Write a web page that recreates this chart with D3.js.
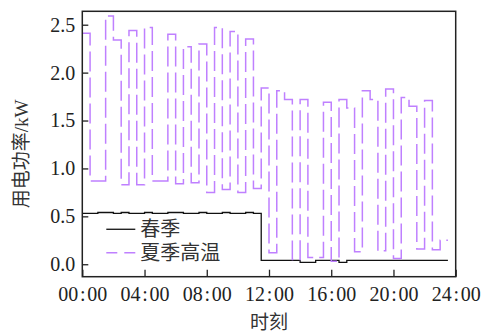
<!DOCTYPE html>
<html>
<head>
<meta charset="utf-8">
<script src="https://cdn.jsdelivr.net/npm/d3@7"></script>
<style>
body { margin: 0; background: #fff; }
</style>
</head>
<body>
<div id="chart"></div>
<script>
const hours = [0,0.5,1,1.5,2,2.5,3,3.5,4,4.5,5,5.5,6,6.5,7,7.5,8,8.5,9,9.5,10,10.5,11,11.5,
  12,12.5,13,13.5,14,14.5,15,15.5,16,16.5,17,17.5,18,18.5,19,19.5,20,20.5,21,21.5,22,22.5,23,23.5];

const spring = [0.53,0.53,0.54,0.54,0.53,0.54,0.53,0.53,0.54,0.53,0.53,0.54,0.54,0.53,0.53,0.54,0.53,0.53,0.54,0.53,0.53,0.54,0.53,
  0.04,0.04,0.04,0.04,0.04,0.02,0.02,0.04,0.04,0.04,0.02,0.04,0.04,0.04,0.04,0.04,0.04,0.04,0.04,0.04,0.04,0.04,0.04,0.04,0.04];

const summer = [2.41,0.87,0.87,2.59,2.34,0.83,2.44,0.83,2.47,0.87,0.87,2.40,0.84,2.27,0.85,2.30,0.75,2.47,0.78,2.43,0.75,2.35,0.79,1.84,
  0.12,1.81,1.72,0.05,1.72,0.07,0.07,1.69,0.03,1.72,1.63,0.13,1.81,1.72,0.14,1.83,0.06,1.74,1.65,0.16,1.71,0.15,0.25,0.25];

const yTicks = [0, 0.5, 1.0, 1.5, 2.0, 2.5];
const xTicks = [0, 4, 8, 12, 16, 20, 24];
const seriesNames = ['春季', '夏季高温'];

const FONT = 'Liberation Serif, Times New Roman, DejaVu Serif, Noto Sans CJK SC, serif';

const margin = {top: 11.3, right: 31.3, bottom: 57.3, left: 82.3},
  W = 487, H = 334,
  width = W - margin.left - margin.right,
  height = H - margin.top - margin.bottom;

const svg = d3.select('#chart').append('svg')
  .attr('width', W).attr('height', H);

const g = svg.append('g')
  .attr('transform', `translate(${margin.left},${margin.top})`);

const x = d3.scaleLinear().domain([0, 24]).range([0, width]);
const y = d3.scaleLinear().domain([-0.13, 2.64]).range([height, 0]);

const line = d3.line()
  .x(d => x(d[0])).y(d => y(d[1]))
  .curve(d3.curveStepAfter);

g.append('path')
  .datum(hours.map((h, i) => [h, spring[i]]))
  .attr('fill', 'none').attr('stroke', '#111').attr('stroke-width', 1.3)
  .attr('d', line);

g.append('path')
  .datum(hours.map((h, i) => [h, summer[i]]))
  .attr('fill', 'none').attr('stroke', '#bf80ff').attr('stroke-width', 1.5)
  .attr('stroke-dasharray', '20,6')
  .attr('d', line);

const pad = s => String(s).padStart(2, '0');

const xAxis = g.append('g')
  .attr('transform', `translate(0,${height})`)
  .call(d3.axisBottom(x).tickValues(xTicks).tickSizeInner(-7).tickSizeOuter(0)
    .tickPadding(10).tickFormat(d => pad(d) + '\u200A:\u200A00'));

const yAxis = g.append('g')
  .call(d3.axisLeft(y).tickValues(yTicks).tickSizeInner(-6).tickSizeOuter(0)
    .tickPadding(7).tickFormat(d3.format('.1f')));

[xAxis, yAxis].forEach(a => {
  a.attr('font-family', FONT).attr('font-size', 20);
  a.select('.domain').remove();
  a.selectAll('line').attr('stroke', '#222').attr('stroke-width', 1.3);
  a.selectAll('text').attr('fill', '#222');
});

g.append('rect')
  .attr('width', width).attr('height', height)
  .attr('fill', 'none').attr('stroke', '#222').attr('stroke-width', 1.5);

// legend
const legend = g.append('g').attr('font-family', FONT).attr('font-size', 20);
const legendY = [y(0.365), y(0.12)];
seriesNames.forEach((name, i) => {
  legend.append('line')
    .attr('x1', 24).attr('x2', 53)
    .attr('y1', legendY[i]).attr('y2', legendY[i])
    .attr('stroke', i === 0 ? '#111' : '#bf80ff')
    .attr('stroke-width', i === 0 ? 1.3 : 1.5)
    .attr('stroke-dasharray', i === 0 ? null : '11,7');
  legend.append('text')
    .attr('x', 58).attr('y', legendY[i])
    .attr('dy', '0.35em').attr('fill', '#333')
    .text(name);
});

svg.append('text')
  .attr('transform', `translate(21,${margin.top + height / 2 + 10}) rotate(-90)`)
  .attr('text-anchor', 'middle').attr('dy', '0.35em')
  .attr('font-family', FONT).attr('font-size', 19).attr('fill', '#333')
  .text('用电功率/kW');

svg.append('text')
  .attr('x', 269).attr('y', 322)
  .attr('text-anchor', 'middle').attr('dy', '0.35em')
  .attr('font-family', FONT).attr('font-size', 19).attr('fill', '#333')
  .text('时刻');
</script>
</body>
</html>
